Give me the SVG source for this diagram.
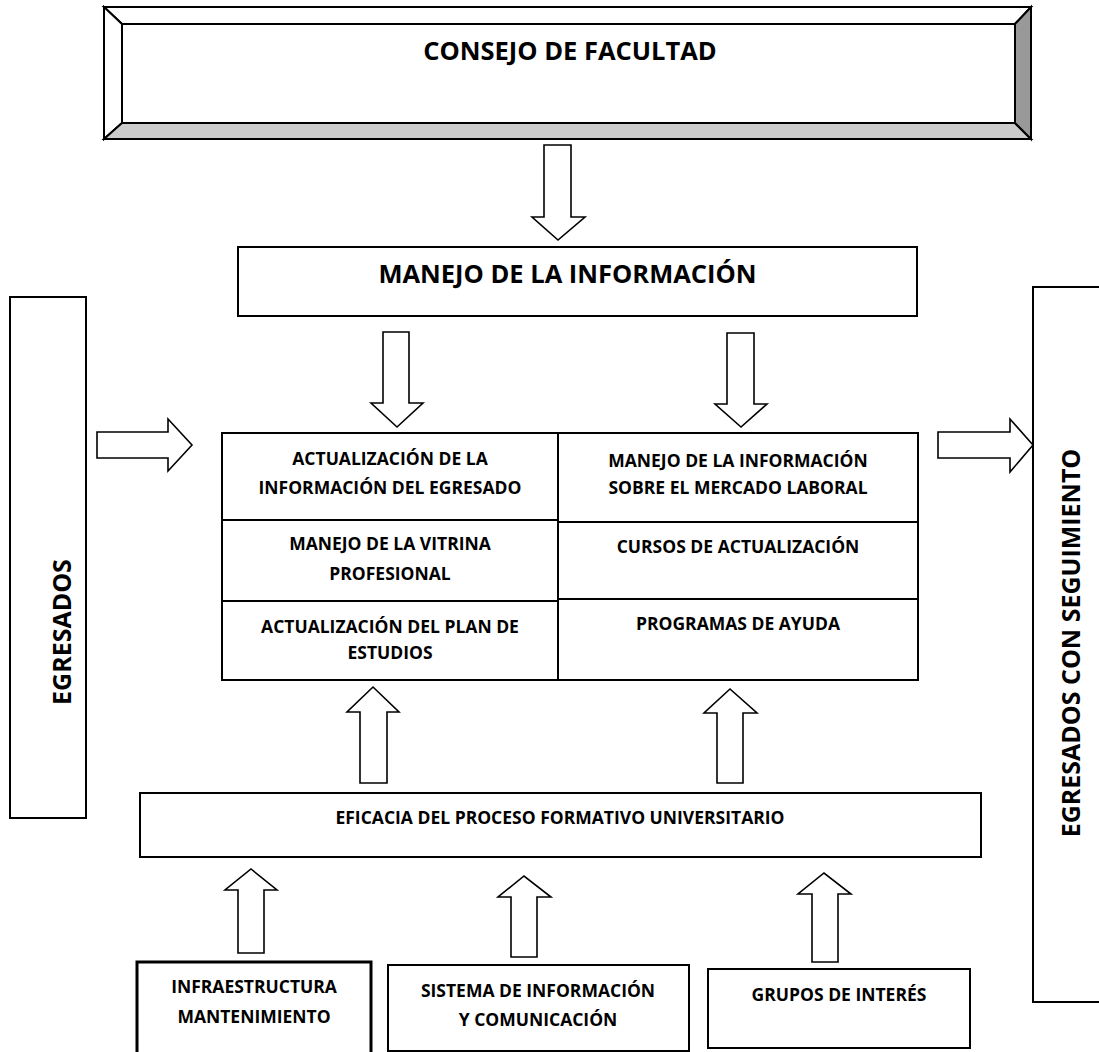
<svg xmlns="http://www.w3.org/2000/svg" width="1099" height="1052" viewBox="0 0 1099 1052">
<style>
.box{fill:#fff;stroke:#000;stroke-width:2}
.thick{stroke-width:3}
.arr{fill:#fff;stroke:#000;stroke-width:1.6;stroke-linejoin:miter}
text{font-family:"Open Sans","Liberation Sans",sans-serif;font-weight:700;fill:#000;text-anchor:middle}
.big{font-size:25.5px}
.mid{font-size:17.5px}
.vert{font-size:25px}
</style>
<rect width="1099" height="1052" fill="#fff"/>
<g id="consejo">
<polygon points="104,7 1031,7 1015,24 122,24" fill="#fff" stroke="#000" stroke-width="2"/>
<polygon points="104,7 122,24 122,123 104,139" fill="#fff" stroke="#000" stroke-width="2"/>
<polygon points="104,139 122,123 1015,123 1031,139" fill="#cccccc" stroke="#000" stroke-width="2"/>
<polygon points="1031,7 1031,139 1015,123 1015,24" fill="#999999" stroke="#000" stroke-width="2"/>
<rect x="122" y="24" width="893" height="99" fill="#fff" stroke="#000" stroke-width="2"/>
<text class="big" x="570" y="60">CONSEJO DE FACULTAD</text>
</g>
<g id="manejo">
<rect class="box" x="238" y="247" width="679" height="69"/>
<text class="big" x="567.5" y="283">MANEJO DE LA INFORMACIÓN</text>
</g>
<g id="egresados">
<rect class="box" x="10" y="297" width="76" height="521"/>
<text class="vert" transform="translate(71,632) rotate(-90)">EGRESADOS</text>
</g>
<g id="seguimiento">
<path d="M1105,287 H1033 V1002 H1105" fill="#fff" stroke="#000" stroke-width="2"/>
<text class="vert" transform="translate(1080,643) rotate(-90)">EGRESADOS CON SEGUIMIENTO</text>
</g>
<g id="grid">
<rect class="box" x="222" y="433" width="696" height="247"/>
<line x1="558" y1="433" x2="558" y2="680" stroke="#000" stroke-width="2"/>
<line x1="222" y1="520" x2="558" y2="520" stroke="#000" stroke-width="2"/>
<line x1="222" y1="601" x2="558" y2="601" stroke="#000" stroke-width="2"/>
<line x1="558" y1="522" x2="918" y2="522" stroke="#000" stroke-width="2"/>
<line x1="558" y1="599" x2="918" y2="599" stroke="#000" stroke-width="2"/>
<text class="mid" x="390" y="465">ACTUALIZACIÓN DE LA</text>
<text class="mid" x="390" y="494">INFORMACIÓN DEL EGRESADO</text>
<text class="mid" x="390" y="550">MANEJO DE LA VITRINA</text>
<text class="mid" x="390" y="580">PROFESIONAL</text>
<text class="mid" x="390" y="633">ACTUALIZACIÓN DEL PLAN DE</text>
<text class="mid" x="390" y="659">ESTUDIOS</text>
<text class="mid" x="738" y="467">MANEJO DE LA INFORMACIÓN</text>
<text class="mid" x="738" y="494">SOBRE EL MERCADO LABORAL</text>
<text class="mid" x="738" y="553">CURSOS DE ACTUALIZACIÓN</text>
<text class="mid" x="738" y="630">PROGRAMAS DE AYUDA</text>
</g>
<g id="eficacia">
<rect class="box" x="140" y="793" width="841" height="64"/>
<text class="mid" x="560" y="824">EFICACIA DEL PROCESO FORMATIVO UNIVERSITARIO</text>
</g>
<g id="infra">
<rect class="box thick" x="137" y="962" width="234" height="100"/>
<text class="mid" x="254" y="993">INFRAESTRUCTURA</text>
<text class="mid" x="254" y="1023">MANTENIMIENTO</text>
</g>
<g id="sistema">
<rect class="box" x="388" y="965" width="301" height="86" stroke-width="2.5"/>
<text class="mid" x="538" y="997">SISTEMA DE INFORMACIÓN</text>
<text class="mid" x="538" y="1026">Y COMUNICACIÓN</text>
</g>
<g id="grupos">
<rect class="box" x="708" y="969" width="262" height="79" stroke-width="2.5"/>
<text class="mid" x="839" y="1001">GRUPOS DE INTERÉS</text>
</g>
<g id="connectors">
<polygon class="arr" points="544,145 571,145 571,217 585,217 558,240 532,217 544,217"/>
<polygon class="arr" points="383,332 409,332 409,403 423,403 397,427 371,403 383,403"/>
<polygon class="arr" points="727,333 754,333 754,404 767,404 741,427 715,404 727,404"/>
<polygon class="arr" points="97,432 168,432 168,419 192,445 168,471 168,458 97,458"/>
<polygon class="arr" points="938,432 1010,432 1010,419 1033,445 1010,472 1010,458 938,458"/>
<polygon class="arr" points="360,783 387,783 387,712 399,712 373,687 347,712 360,712"/>
<polygon class="arr" points="717,783 743,783 743,713 757,713 730,689 704,713 717,713"/>
<polygon class="arr" points="238,953 264,953 264,890 277,890 251,869 225,890 238,890"/>
<polygon class="arr" points="511,957 537,957 537,897 551,897 524,876 498,897 511,897"/>
<polygon class="arr" points="812,962 838,962 838,894 851,894 824,873 798,894 812,894"/>
</g>
</svg>
